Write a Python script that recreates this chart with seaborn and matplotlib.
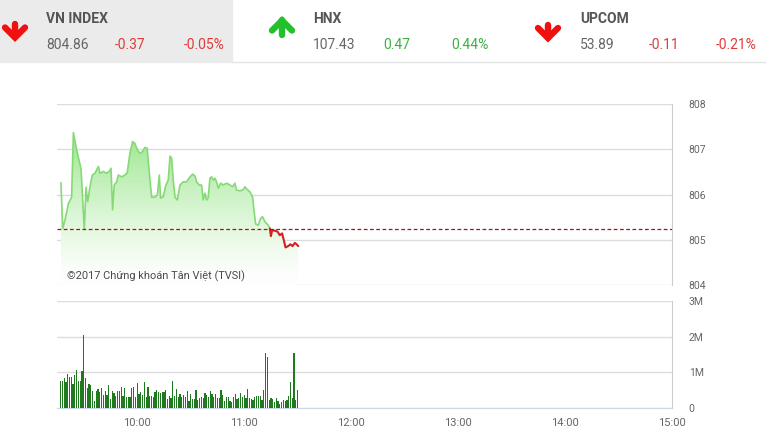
import matplotlib
matplotlib.use('Agg')
import matplotlib.pyplot as plt
import numpy as np
import pandas as pd
import seaborn as sns
from matplotlib.colors import to_rgb
from matplotlib.patches import Rectangle

# bảng chỉ số phía trên
markets = ['VN INDEX', 'HNX', 'UPCOM']
last_vals = ['804.86', '107.43', '53.89']
changes = ['-0.37', '0.47', '-0.11']
pct_changes = ['-0.05%', '0.44%', '-0.21%']

ref_price = 805.23

# giá VN-Index (phút tính từ 9:00)
price_min = [17.2, 18.2, 19.5, 21.4, 23.2, 24.2, 26.0, 28.5, 30.3, 31.3,
             32.2, 33.5, 34.8, 36.3, 38.2, 39.1, 41.0, 42.8, 44.3, 45.3,
             46.2, 47.1, 48.5, 49.4, 51.3, 53.1, 54.4, 55.9, 57.4, 58.7,
             60.0, 61.5, 63.0, 64.3, 65.6, 66.8, 68.1, 69.9, 71.3, 72.4,
             73.1, 74.6, 76.1, 77.4, 78.4, 79.3, 80.2, 81.2, 82.5, 84.0,
             85.8, 87.7, 89.6, 91.1, 92.4, 93.3, 94.8, 96.1, 97.0, 98.0,
             98.9, 99.8, 100.8, 101.7, 102.7, 103.6, 104.5, 105.5, 106.8, 108.3,
             110.1, 112.0, 113.5, 114.8, 115.7, 117.6, 119.5, 120.4, 121.7, 123.2,
             124.7, 125.5, 126.4, 127.9, 129.2, 130.3, 131.6, 133.5, 134.4, 135.0,
             135.7, 137.2, 138.7, 140.0, 141.3, 142.3, 143.2, 144.7, 146.0, 147.1,
             148.4, 149.4, 150.3]
price_val = [806.26, 805.25, 805.44, 805.80, 805.94, 807.37, 806.99, 806.56, 805.23, 806.16,
             805.84, 806.17, 806.43, 806.47, 806.62, 806.47, 806.51, 806.47, 806.51, 806.58,
             805.66, 806.21, 806.28, 806.43, 806.39, 806.43, 806.48, 806.91, 807.17, 807.13,
             806.99, 806.91, 806.95, 807.04, 807.02, 806.47, 805.94, 805.94, 805.99, 806.43,
             805.92, 805.95, 806.21, 806.32, 806.85, 806.80, 806.32, 805.94, 805.88, 806.21,
             806.28, 806.28, 806.39, 806.45, 806.41, 806.28, 806.21, 806.21, 805.88, 806.03,
             805.88, 805.92, 806.36, 806.39, 806.32, 806.36, 806.28, 806.14, 806.25, 806.21,
             806.25, 806.21, 806.17, 806.25, 806.10, 806.08, 806.11, 806.17, 806.11, 806.06,
             805.95, 805.66, 805.35, 805.32, 805.47, 805.51, 805.40, 805.32, 805.25, 805.08,
             805.21, 805.20, 805.18, 805.10, 805.14, 804.98, 804.83, 804.86, 804.90, 804.86,
             804.93, 804.90, 804.86]

# khối lượng theo phút (triệu cp), 9:17 -> 11:30
vol_m = [0.77, 0.77, 0.84, 0.72, 0.95, 0.88, 0.88, 0.67, 0.93, 1.07,
         0.77, 0.75, 1.05, 2.06, 0.84, 0.56, 0.67, 0.65, 0.47, 0.21,
         0.47, 0.53, 0.44, 0.56, 0.37, 0.47, 0.37, 0.65, 0.25, 0.47,
         0.41, 0.35, 0.47, 0.47, 0.60, 0.35, 0.56, 0.32, 0.32, 0.32,
         0.56, 0.60, 0.32, 0.71, 0.39, 0.44, 0.37, 0.72, 0.30, 0.58,
         0.35, 0.35, 0.30, 0.44, 0.51, 0.44, 0.41, 0.44, 0.44, 0.51,
         0.25, 0.35, 0.28, 0.77, 0.35, 0.53, 0.30, 0.39, 0.30, 0.37,
         0.32, 0.49, 0.21, 0.39, 0.25, 0.25, 0.50, 0.22, 0.28, 0.32,
         0.28, 0.41, 0.37, 0.32, 0.49, 0.39, 0.32, 0.39, 0.28, 0.28,
         0.51, 0.37, 0.19, 0.30, 0.30, 0.21, 0.16, 0.30, 0.39, 0.25,
         0.28, 0.41, 0.32, 0.37, 0.28, 0.53, 0.28, 0.25, 0.22, 0.32,
         0.35, 0.35, 0.35, 0.23, 0.50, 1.53, 1.44, 0.22, 0.28, 0.25,
         0.16, 0.28, 0.19, 0.11, 0.16, 0.22, 0.19, 0.22, 0.35, 0.72,
         0.28, 1.53, 0.22, 0.50]
vol_min = list(range(17, 17 + len(vol_m)))

hour_ticks = [60, 120, 180, 240, 300, 360]
hour_labels = ['10:00', '11:00', '12:00', '13:00', '14:00', '15:00']

FONT = ['Roboto', 'DejaVu Sans']
sns.set_style('white')
plt.rcParams['font.family'] = FONT

W, H = 766, 436
fig = plt.figure(figsize=(W / 100, H / 100), dpi=100)


def box(x0, y0, x1, y1):
    return [x0 / W, 1 - y1 / H, (x1 - x0) / W, (y1 - y0) / H]


ax1 = fig.add_axes(box(57, 104, 672, 285))
ax2 = fig.add_axes(box(57, 301, 672, 408))

# --- biểu đồ giá ---
df = pd.DataFrame({'t': price_min, 'p': price_val})
fill = ax1.fill_between(df.t, df.p, 804, color='none', lw=0)
grad = np.ones((200, 1, 4))
g = np.linspace(1, 0, 200)[:, None] ** 1.3
c_top = np.array(to_rgb('#9be68c'))
grad[:, 0, :3] = c_top * g + (1 - g)
im = ax1.imshow(grad, extent=[df.t.min(), df.t.max(), 804, df.p.max()],
                aspect='auto', origin='upper', zorder=1)
im.set_clip_path(fill.get_paths()[0], transform=ax1.transData)

k = max(i for i, v in enumerate(price_val) if v >= ref_price)
sns.lineplot(data=df.iloc[:k + 1], x='t', y='p', ax=ax1, color='#86da76', lw=1.2, zorder=3)
sns.lineplot(data=df.iloc[k:], x='t', y='p', ax=ax1, color='#d42020', lw=1.5, zorder=3)
ax1.axhline(ref_price, color='#a51515', lw=0.9, ls=(0, (3, 2)), zorder=4)

ax1.set_xlim(15, 360)
ax1.set_ylim(804, 808)
ax1.set_yticks([804, 805, 806, 807, 808])
ax1.set_xticks([])
ax1.set_xlabel('')
ax1.set_ylabel('')
ax1.yaxis.tick_right()
ax1.tick_params(axis='y', length=0, pad=12, labelsize=7.5, labelcolor='#666666')
ax1.grid(axis='y', color='#dcdcdc', lw=1)
ax1.set_axisbelow(True)
for s in ['left', 'top', 'bottom']:
    ax1.spines[s].set_visible(False)
ax1.spines['right'].set_color('#cccccc')

# --- biểu đồ khối lượng ---
vdf = pd.DataFrame({'t': vol_min, 'v': vol_m})
sns.barplot(data=vdf, x='t', y='v', native_scale=True, color='#1f7a1f',
            saturation=1, width=0.7, errorbar=None, linewidth=0, ax=ax2, zorder=3)
for p in ax2.patches:
    p.set_antialiased(False)
ax2.set_xlim(15, 360)
ax2.set_ylim(0, 3)
ax2.set_yticks([0, 1, 2, 3], ['0', '1M', '2M', '3M'])
ax2.set_xticks(hour_ticks, hour_labels)
ax2.set_xlabel('')
ax2.set_ylabel('')
ax2.yaxis.tick_right()
ax2.tick_params(axis='y', length=0, pad=12, labelsize=7.5, labelcolor='#666666')
ax2.tick_params(axis='x', direction='out', length=6, color='#ccd6eb', pad=1,
                labelsize=8, labelcolor='#666666')
ax2.grid(axis='y', color='#dcdcdc', lw=1)
ax2.set_axisbelow(True)
for s in ['left', 'top']:
    ax2.spines[s].set_visible(False)
ax2.spines['bottom'].set_color('#ccd6eb')
ax2.spines['right'].set_color('#cccccc')

# --- phần đầu trang & chú thích ---
ov = fig.add_axes([0, 0, 1, 1], zorder=10)
ov.set_xlim(0, W)
ov.set_ylim(H, 0)
ov.axis('off')
ov.patch.set_alpha(0)

ov.add_patch(Rectangle((0, 0), 232, 62, color='#ebebeb', zorder=0))
ov.plot([232, W], [62.5, 62.5], color='#e4e4e4', lw=1)


def arrow(cx, y_tail, y_tip, color):
    sgn = 1 if y_tip > y_tail else -1
    ov.plot([cx, cx], [y_tail, y_tip], color=color, lw=4.6, solid_capstyle='round')
    ov.plot([cx - 10, cx, cx + 10], [y_tip - sgn * 10, y_tip, y_tip - sgn * 10],
            color=color, lw=4.6, solid_capstyle='round', solid_joinstyle='miter')


red, green = '#f01010', '#22c02a'
arrow(15, 24.5, 37.5, red)
arrow(282, 35.5, 20.5, green)
arrow(548, 25, 38, red)

col_x = [46, 313, 580]
chg_x = [115, 383, 649]
pct_x = [184, 451, 716]
chg_color = ['#e03a3a', '#3cb044', '#e03a3a']
for i in range(3):
    ov.text(col_x[i], 19, markets[i], va='center', ha='left', size=10,
            weight='bold', color='#555555')
    ov.text(col_x[i], 45, last_vals[i], va='center', ha='left', size=10, color='#666666')
    ov.text(chg_x[i], 45, changes[i], va='center', ha='left', size=10, color=chg_color[i])
    ov.text(pct_x[i], 45, pct_changes[i], va='center', ha='left', size=10, color=chg_color[i])

ov.text(67, 276, '©2017 Chứng khoán Tân Việt (TVSI)', va='center', ha='left',
        size=7.9, color='#4a4a4a')

fig.savefig('out.png', dpi=100)
